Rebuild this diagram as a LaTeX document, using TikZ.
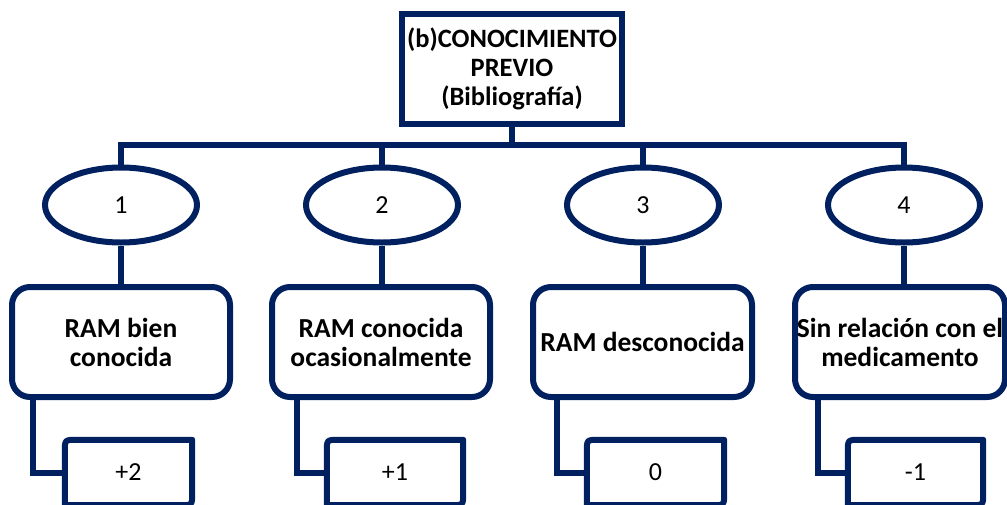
\documentclass[tikz,border=0pt]{standalone}
\usepackage{fontspec}
\setmainfont{Carlito}
\usetikzlibrary{shapes.geometric,calc}
\definecolor{navy}{HTML}{002060}
\begin{document}
\begin{tikzpicture}[x=1pt,y=-1pt,
  ln/.style={draw=navy,line width=6pt},
  topbox/.style={ln,rectangle,minimum width=220pt,minimum height=110pt,align=center,font=\fontsize{26.5}{29}\selectfont\bfseries,inner sep=0pt},
  oval/.style={ln,ellipse,minimum width=152pt,minimum height=75pt,font=\fontsize{26}{30}\selectfont,inner sep=0pt},
  catbox/.style={ln,rectangle,rounded corners=18pt,minimum height=110pt,align=center,font=\fontsize{27.5}{29}\selectfont\bfseries,inner sep=0pt},
  valbox/.style={rectangle,minimum height=65pt,font=\fontsize{26}{30}\selectfont,inner sep=0pt},
  conn/.style={navy,line width=6pt}]
\useasboundingbox (0,0) rectangle (1007,504);
\fill[white] (0,0) rectangle (1007,504);
% top
\node[topbox] (top) at (512,69) {(b)CONOCIMIENTO\\PREVIO\\(Bibliografía)};
\coordinate (bus) at (512,145);
% ellipses
\node[oval] (e1) at (121,205) {1};
\node[oval] (e2) at (382,205) {2};
\node[oval] (e3) at (643,205) {3};
\node[oval] (e4) at (904,205) {4};
% category boxes
\node[catbox,minimum width=218pt] (b1) at (121,342) {RAM bien\\conocida};
\node[catbox,minimum width=218pt] (b2) at (381,342) {RAM conocida\\ocasionalmente};
\node[catbox,minimum width=219pt] (b3) at (642.5,342) {RAM desconocida};
\node[catbox,minimum width=210pt] (b4) at (900,342) {Sin relación con el\\medicamento};
% value boxes
\node[valbox,minimum width=127pt] (v1) at (128.5,472.5) {+2};
\node[valbox,minimum width=136pt] (v2) at (395,472.5) {+1};
\node[valbox,minimum width=137pt] (v3) at (655.5,472.5) {0};
\node[valbox,minimum width=135pt] (v4) at (915.5,472.5) {-1};
\foreach \v in {v1,v2,v3,v4}{
  \draw[conn,line join=round] (\v.south west) -- ($(\v.north west)+(0,12)$) .. controls (\v.north west) .. ($(\v.north west)+(12,0)$)
    -- (\v.north east) -- ($(\v.south east)+(0,-12)$) .. controls (\v.south east) .. ($(\v.south east)+(-12,0)$) -- cycle;
}
% connectors
\draw[conn] (top.south) -- (bus);
\draw[conn] (e1.north) |- (e4.north |- bus) -- (e4.north);
\draw[conn] (e2.north) -- (e2.north |- bus);
\draw[conn] (e3.north) -- (e3.north |- bus);
\foreach \i in {1,2,3,4}{
  \draw[conn] (e\i.south) -- (e\i.south |- b\i.north);
}
\draw[conn] ($(b1.south)+(-88,0)$) |- (v1.west);
\draw[conn] ($(b2.south)+(-84,0)$) |- (v2.west);
\draw[conn] ($(b3.south)+(-85.5,0)$) |- (v3.west);
\draw[conn] ($(b4.south)+(-82,0)$) |- (v4.west);
\end{tikzpicture}
\end{document}
